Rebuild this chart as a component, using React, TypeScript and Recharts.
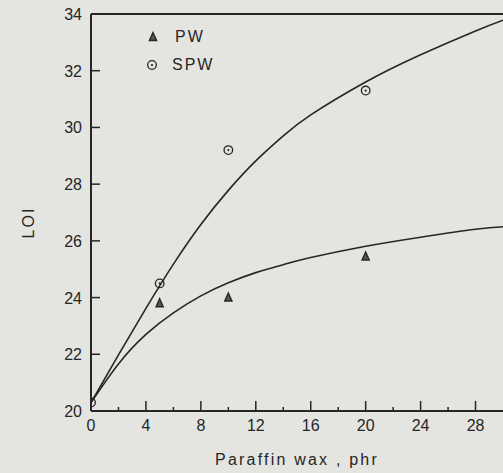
import React from "react";
import {
  ComposedChart,
  Line,
  Scatter,
  XAxis,
  YAxis,
  ReferenceLine,
  Legend,
} from "recharts";

// fitted curves (phr, LOI)
const curveX = [0, 2, 4, 6, 8, 10, 12, 14, 16, 20, 24, 28, 30];
const spwCurve = [20.3, 21.98, 23.62, 25.18, 26.58, 27.78, 28.82, 29.7, 30.44, 31.6, 32.56, 33.4, 33.78];
const pwCurve = [20.3, 21.66, 22.7, 23.46, 24.06, 24.52, 24.88, 25.16, 25.41, 25.81, 26.13, 26.41, 26.5];

// measured points
const pwX = [5, 10, 20];
const pwY = [23.8, 24.0, 25.45];
const spwX = [0, 5, 10, 20];
const spwY = [20.3, 24.5, 29.2, 31.3];

const xTicks = [0, 2, 4, 6, 8, 10, 12, 14, 16, 18, 20, 22, 24, 26, 28];
const yTicks = [20, 22, 24, 26, 28, 30, 32, 34];

const INK = "#262626";
const PAPER = "#e4e4e0";
const FONT = "'Liberation Sans', Arial, sans-serif";

const spwLine = curveX.map((x, i) => ({ x, y: spwCurve[i] }));
const pwLine = curveX.map((x, i) => ({ x, y: pwCurve[i] }));
const pwPts = pwX.map((x, i) => ({ x, y: pwY[i] }));
const spwPts = spwX.map((x, i) => ({ x, y: spwY[i] }));

const Triangle = ({ cx, cy }: any) => (
  <path
    d={`M${cx},${cy - 4.5} L${cx + 3.6},${cy + 3.5} L${cx - 3.6},${cy + 3.5} Z`}
    fill="#555"
    stroke={INK}
    strokeWidth={1.4}
  />
);

const Ring = ({ cx, cy }: any) => (
  <g>
    <circle cx={cx} cy={cy} r={4.3} fill="none" stroke={INK} strokeWidth={1.3} />
    <circle cx={cx} cy={cy} r={1.1} fill={INK} />
  </g>
);

const XTick = ({ x, y, payload }: any) => {
  const major = payload.value % 4 === 0;
  const axisY = y - 6;
  return (
    <g>
      <line x1={x} x2={x} y1={axisY} y2={axisY - (major ? 10 : 4)} stroke={INK} strokeWidth={1.5} />
      {major && (
        <text x={x} y={y + 14} textAnchor="middle" fill={INK} fontSize={16} fontFamily={FONT}>
          {payload.value}
        </text>
      )}
    </g>
  );
};

const YTick = ({ x, y, payload }: any) => {
  const axisX = x + 9;
  return (
    <g>
      <line x1={axisX} x2={axisX + 9} y1={y} y2={y} stroke={INK} strokeWidth={1.5} />
      <text x={x} y={y + 6} textAnchor="end" fill={INK} fontSize={16} fontFamily={FONT}>
        {payload.value}
      </text>
    </g>
  );
};

const legendItems = [
  { name: "PW", Icon: Triangle },
  { name: "SPW", Icon: Ring },
];

const renderLegend = () => (
  <div style={{ fontFamily: FONT, fontSize: 16, color: INK, letterSpacing: 2 }}>
    {legendItems.map(({ name, Icon }, i) => (
      <div key={name} style={{ display: "flex", alignItems: "center", height: 28, marginLeft: i ? -1 : 0 }}>
        <svg width={22} height={14}>
          <Icon cx={7} cy={7} />
        </svg>
        <span style={{ marginLeft: i ? 5 : 7 }}>{name}</span>
      </div>
    ))}
  </div>
);

export default function App() {
  return (
    <div style={{ position: "absolute", left: 0, top: 0, width: 503, height: 473, background: PAPER }}>
      <ComposedChart width={503} height={473} margin={{ top: 14, right: 0, left: 0, bottom: 0 }}>
        <XAxis
          type="number"
          dataKey="x"
          domain={[0, 30]}
          ticks={xTicks}
          interval={0}
          allowDataOverflow
          height={62}
          tickSize={0}
          tickMargin={6}
          tick={<XTick />}
          axisLine={{ stroke: INK, strokeWidth: 2 }}
          tickLine={false}
          label={{
            value: "Paraffin wax , phr",
            position: "insideBottom",
            offset: 8,
            fill: INK,
            fontSize: 16,
            fontFamily: FONT,
            letterSpacing: 2.2,
          }}
        />
        <YAxis
          type="number"
          domain={[20, 34]}
          ticks={yTicks}
          interval={0}
          allowDataOverflow
          width={91}
          tickSize={0}
          tickMargin={9}
          tick={<YTick />}
          axisLine={{ stroke: INK, strokeWidth: 2 }}
          tickLine={false}
          label={{
            value: "LOI",
            angle: -90,
            position: "insideLeft",
            offset: 28,
            dy: 10,
            fill: INK,
            fontSize: 16,
            fontFamily: FONT,
            letterSpacing: 2,
            textAnchor: "middle",
          }}
        />
        <ReferenceLine y={34} stroke={INK} strokeWidth={2} />
        <Legend
          layout="vertical"
          align="center"
          verticalAlign="middle"
          content={renderLegend}
          wrapperStyle={{ left: 146, top: 23, width: 120 }}
        />
        <Line
          data={spwLine}
          dataKey="y"
          name="SPW fit"
          type="natural"
          stroke={INK}
          strokeWidth={1.6}
          dot={false}
          legendType="none"
          isAnimationActive={false}
        />
        <Line
          data={pwLine}
          dataKey="y"
          name="PW fit"
          type="natural"
          stroke={INK}
          strokeWidth={1.6}
          dot={false}
          legendType="none"
          isAnimationActive={false}
        />
        <Scatter data={pwPts} dataKey="y" name="PW" shape={<Triangle />} isAnimationActive={false} />
        <Scatter data={spwPts} dataKey="y" name="SPW" shape={<Ring />} isAnimationActive={false} />
      </ComposedChart>
    </div>
  );
}
